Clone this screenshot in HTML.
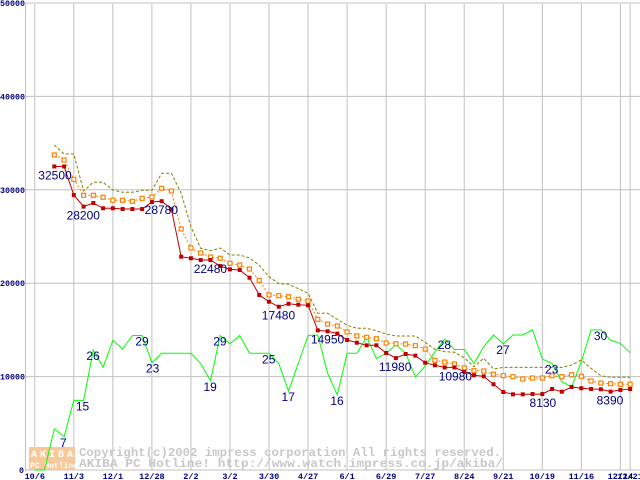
<!DOCTYPE html>
<html><head><meta charset="utf-8"><style>
body{margin:0;background:#fff;}
svg{display:block;font-family:"Liberation Mono","DejaVu Sans Mono",monospace;}
</style></head><body>
<svg id="c" width="640" height="480" viewBox="0 0 640 480">
<g id="grid"></g>
<g id="wm">
 <rect x="29" y="447" width="46" height="23" fill="#f8c89a"/>
 <text x="31" y="457" font-size="10" font-weight="bold" fill="#fff" letter-spacing="3">AKIBA</text>
 <text x="30" y="468" font-size="8" font-weight="bold" fill="#fff">PC Hotline!</text>
 <text x="79" y="456" font-size="12" fill="#c8c8c8" font-weight="bold" textLength="422" lengthAdjust="spacingAndGlyphs">Copyright(c)2002 impress corporation All rights reserved.</text>
 <text x="79" y="467" font-size="12" fill="#c8c8c8" font-weight="bold" textLength="424" lengthAdjust="spacingAndGlyphs">AKIBA PC Hotline!  http://www.watch.impress.co.jp/akiba/</text>
</g>
<g id="series"></g>
<g id="labels"></g>
</svg>
<script>
const yTicks=[0,10000,20000,30000,40000,50000];
const xTickLabels=["10/6","11/3","12/1","12/28","2/2","3/2","3/30","4/27","6/1","6/29","7/27","8/24","9/21","10/19","11/16","12/14","12/21"];
const xTickIdx=[-2,2,6,10,14,18,22,26,30,34,38,42,46,50,54,58,59];
const minPrice=[32500,32500,29440,28200,28590,28020,28020,27940,27940,27940,28690,28780,27910,22840,22670,22480,22480,21840,21480,21410,20590,18740,18020,17480,17800,17700,17630,14950,14850,14600,13920,13630,13350,13350,12530,11980,12420,12240,11490,11210,10980,10980,10520,10140,10030,9180,8350,8100,8100,8130,8130,8670,8380,8890,8750,8670,8640,8390,8570,8670];
const avgPrice=[33730,33190,31120,29410,29410,29200,28880,28880,28770,29090,29230,30160,29870,25800,23770,23230,22800,22670,22130,21950,21520,20310,18740,18660,18550,18280,18090,16130,15630,15420,14780,14350,14210,14060,13600,13520,13490,13310,12950,11740,11560,11350,10920,10630,10600,10250,10100,9990,9740,9850,9850,10100,9990,10200,10030,9530,9310,9240,9180,9180];
const maxPrice=[34800,33830,33830,29870,30800,30800,29980,29730,29730,29950,29950,31770,31770,29620,26050,23740,23480,23770,23020,23020,22700,21920,20700,19950,19880,19410,18920,16780,16780,16130,15490,15170,15170,14910,14560,14350,14350,14350,13670,12920,12670,12600,12020,11060,11960,10810,10990,10990,10990,10990,10990,10990,10990,11240,11780,10890,10100,9920,9920,9920];
const shopCount=[0,0,8.8,7.1,14.9,14.9,25.7,22,27.8,25.9,28.8,28.8,23,25,25,25,25,22.8,19.1,28.8,27,28.8,25,25,25,22.8,16.9,22.8,28.8,28.9,20.7,16.1,25,25,28.5,23.9,25,26.8,25,19.9,22.3,25.3,28,25.8,25.8,22.8,26.4,28.9,27,28.9,28.9,30,23.8,22.8,18.9,17.8,23.2,30,30,27.8,27.1,25.1];
const shopStart=-2;
const priceLabelIdx=[0,3,11,15,23,27,35,40,49,57];
const priceLabelText=["32500","28200","28780","22480","17480","14950","11980","10980","8130","8390"];
const priceLabelDx=[-16,-17,-17,-7,-17,-7,-17,-6,-3,-14];
const countLabelIdx=[1,2,4,8,10,16,17,22,24,29,40,46,51,56];
const countLabelText=["7","15","26","29","23","19","29","25","17","16","28","27","23","30"];
const countLabelDx=[-4,2,-7,3,-6,-7,-7,-7,-7,-7,-7,-7,-7,-7];
const NS="http://www.w3.org/2000/svg";
const X=i=>54.3+9.76*i;
const Y=v=>470-v*0.00934;
const YC=c=>470-c*4.67;
function mk(tag,attrs,parent){const e=document.createElementNS(NS,tag);for(const k in attrs)e.setAttribute(k,attrs[k]);parent.appendChild(e);return e;}
const grid=document.getElementById('grid'),ser=document.getElementById('series'),lab=document.getElementById('labels');
yTicks.forEach(v=>{
 const l=mk('line',{x1:25,x2:640,y1:Y(v),y2:Y(v),stroke:'#c0c0c0','stroke-width':1},grid);
 
 
 const s=String(v);
 const t=mk('text',{x:v?25:24,y:Y(v)+3,'text-anchor':'end','font-size':8.3,'font-weight':'bold',fill:'#000080'},grid);
 if(v){t.setAttribute('textLength',25);t.setAttribute('lengthAdjust','spacingAndGlyphs');}
 t.textContent=s;
 
 
});
xTickIdx.forEach((ix,k)=>{
 const l=mk('line',{x1:X(ix),x2:X(ix),y1:4,y2:470,stroke:'#c0c0c0','stroke-width':1},grid);
 
 
 const t=mk('text',{x:X(ix),y:479,'text-anchor':'middle','font-size':8.5,'font-weight':'bold',fill:'#000080'},grid);
 t.textContent=xTickLabels[k];
 
 
});
const ax=mk('line',{x1:25.5,x2:25.5,y1:4,y2:471,stroke:'#c0c0c0'},grid);


function pts(arr,fx,fy,off){return arr.map((v,i)=>fx(i+off).toFixed(1)+','+fy(v).toFixed(1)).join(' ');}
let p=mk('polyline',{points:pts(shopCount,X,YC,shopStart),fill:'none',stroke:'#00ff00','stroke-width':1},ser);


p=mk('polyline',{points:pts(maxPrice,X,Y,0),fill:'none',stroke:'#808000','stroke-width':1,'stroke-dasharray':'3,2'},ser);


p=mk('polyline',{points:pts(avgPrice,X,Y,0),fill:'none',stroke:'#ff8000','stroke-width':1,'stroke-dasharray':'2,2'},ser);


avgPrice.forEach((v,i)=>{const r=mk('rect',{x:X(i)-2,y:Y(v)-2,width:4,height:4,fill:'#fff',stroke:'#ff8000','stroke-width':1.2},ser);
 
 });
p=mk('polyline',{points:pts(minPrice,X,Y,0),fill:'none',stroke:'#c00000','stroke-width':1},ser);


minPrice.forEach((v,i)=>{const r=mk('rect',{x:X(i)-2,y:Y(v)-2,width:4,height:4,fill:'#c00000'},ser);
 
 });
priceLabelIdx.forEach((i,k)=>{const t=mk('text',{x:X(i)+priceLabelDx[k],y:Y(minPrice[i])+13,'font-size':12,fill:'#000080','font-family':'Liberation Sans, sans-serif'},lab);
 t.textContent=priceLabelText[k];
 
 });
countLabelIdx.forEach((i,k)=>{const t=mk('text',{x:X(i)+countLabelDx[k],y:YC(shopCount[i-shopStart])+10,'font-size':12,fill:'#000080','font-family':'Liberation Sans, sans-serif'},lab);
 t.textContent=countLabelText[k];
 
 });
</script>
</body></html>
